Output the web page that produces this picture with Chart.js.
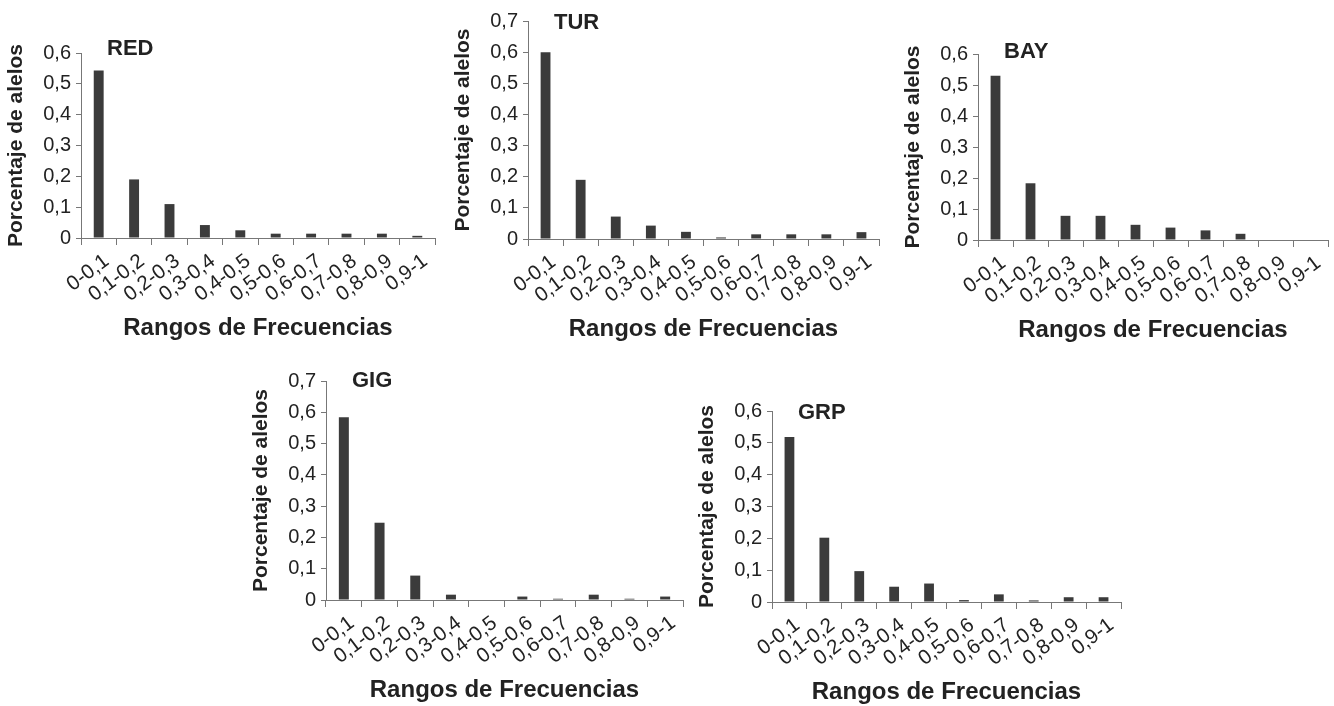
<!DOCTYPE html>
<html>
<head>
<meta charset="utf-8">
<script src="https://cdn.jsdelivr.net/npm/chart.js@4"></script>
<style>
  html, body { margin: 0; padding: 0; background: #fff; overflow: hidden; }
  body { width: 1334px; height: 706px; position: relative; }
  canvas { position: absolute; }
</style>
</head>
<body>
<canvas id="red"></canvas>
<canvas id="tur"></canvas>
<canvas id="bay"></canvas>
<canvas id="gig"></canvas>
<canvas id="grp"></canvas>
<script>
// Rangos de frecuencia (categorías)
const rangos = ['0-0,1', '0,1-0,2', '0,2-0,3', '0,3-0,4', '0,4-0,5',
                '0,5-0,6', '0,6-0,7', '0,7-0,8', '0,8-0,9', '0,9-1'];

// Porcentaje de alelos por población
const valoresRED = [0.543, 0.19, 0.11, 0.042, 0.025, 0.014, 0.014, 0.014, 0.014, 0.007];
const valoresTUR = [0.6, 0.19, 0.072, 0.043, 0.023, 0.005, 0.015, 0.015, 0.015, 0.022];
const valoresBAY = [0.53, 0.183, 0.078, 0.078, 0.049, 0.04, 0.031, 0.02, 0, 0];
const valoresGIG = [0.584, 0.247, 0.078, 0.017, 0, 0.011, 0.004, 0.017, 0.004, 0.011];
const valoresGRP = [0.518, 0.202, 0.097, 0.048, 0.058, 0.006, 0.024, 0.005, 0.015, 0.015];

// Máximo del eje Y de cada gráfico
const maximos = { RED: 0.6, TUR: 0.7, BAY: 0.6, GIG: 0.7, GRP: 0.6 };

const FUENTE = "'Liberation Sans', Arial, sans-serif";
const TEXTO = '#222';
const EJE = '#777';

// Dibuja el nombre de la población dentro del área del gráfico
const etiquetaPoblacion = {
    id: 'etiquetaPoblacion',
    afterDraw(chart, args, opts) {
        const { ctx, chartArea } = chart;
        ctx.save();
        ctx.font = 'bold 22px ' + FUENTE;
        ctx.fillStyle = TEXTO;
        ctx.textBaseline = 'middle';
        ctx.textAlign = 'left';
        ctx.fillText(opts.texto, chartArea.left + 26, chartArea.top + (opts.dy || 0));
        ctx.restore();
    }
};

function crearGrafico(id, nombre, valores, caja, dy) {
    const canvas = document.getElementById(id);
    canvas.width = caja.w;
    canvas.height = caja.h;
    canvas.style.left = caja.x + 'px';
    canvas.style.top = caja.y + 'px';

    new Chart(canvas.getContext('2d'), {
        type: 'bar',
        data: {
            labels: rangos,
            datasets: [{
                data: valores,
                backgroundColor: '#3b3b3b',
                borderWidth: 0,
                categoryPercentage: 1,
                barPercentage: 0.28
            }]
        },
        plugins: [etiquetaPoblacion],
        options: {
            responsive: false,
            animation: false,
            layout: { padding: { top: 20, right: 10, bottom: 0, left: 0 } },
            plugins: {
                legend: { display: false },
                tooltip: { enabled: false },
                etiquetaPoblacion: { texto: nombre, dy: dy }
            },
            scales: {
                x: {
                    offset: true,
                    grid: { offset: true, drawOnChartArea: false, drawTicks: true, tickLength: 7, color: EJE },
                    border: { color: EJE, width: 1 },
                    ticks: {
                        autoSkip: false,
                        minRotation: 37,
                        maxRotation: 37,
                        padding: 4,
                        labelOffset: 8,
                        color: TEXTO,
                        font: { family: FUENTE, size: 20.5 }
                    },
                    title: {
                        display: true,
                        text: 'Rangos de Frecuencias',
                        color: TEXTO,
                        padding: 0,
                        font: { family: FUENTE, size: 24, weight: 'bold' }
                    },
                    afterFit(scale) { scale.height = 105; }
                },
                y: {
                    min: 0,
                    max: maximos[nombre],
                    grid: { drawOnChartArea: false, drawTicks: true, tickLength: 5, color: EJE },
                    border: { color: EJE, width: 1 },
                    ticks: {
                        stepSize: 0.1,
                        padding: 5,
                        color: TEXTO,
                        font: { family: FUENTE, size: 20 },
                        callback: v => v === 0 ? '0' : v.toFixed(1).replace('.', ',')
                    },
                    title: {
                        display: true,
                        text: 'Porcentaje de alelos',
                        color: TEXTO,
                        padding: { top: 4, bottom: 0 },
                        font: { family: FUENTE, size: 21, weight: 'bold' }
                    },
                    afterFit(scale) { scale.width = 81; }
                }
            }
        }
    });
}

crearGrafico('red', 'RED', valoresRED, { x: 0, y: 33, w: 445, h: 310 }, -4);
crearGrafico('tur', 'TUR', valoresTUR, { x: 447, y: 1, w: 442, h: 343 }, 2);
crearGrafico('bay', 'BAY', valoresBAY, { x: 897, y: 34, w: 441, h: 311 }, -2);
crearGrafico('gig', 'GIG', valoresGIG, { x: 245, y: 361, w: 448, h: 344 }, 0);
crearGrafico('grp', 'GRP', valoresGRP, { x: 691, y: 391, w: 440, h: 316 }, 2);
</script>
</body>
</html>
